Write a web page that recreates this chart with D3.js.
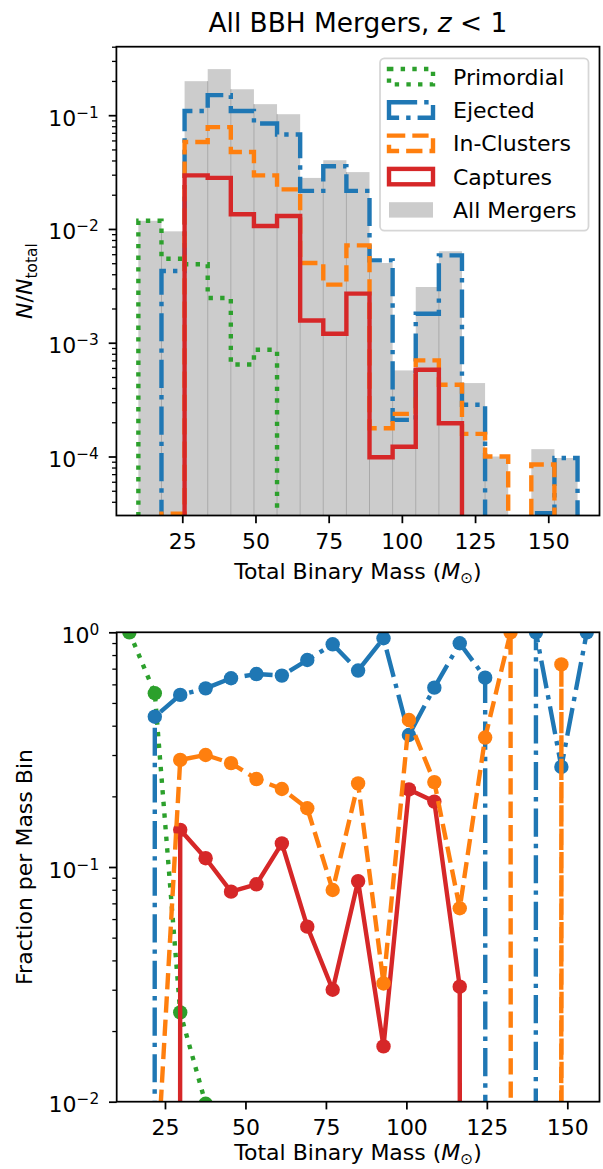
<!DOCTYPE html>
<html>
<head>
<meta charset="utf-8">
<script src="https://cdn.jsdelivr.net/npm/d3@7"></script>
<style>
  html, body { margin: 0; padding: 0; background: #fff; }
  svg { display: block; }
</style>
</head>
<body>
<svg id="fig" width="603" height="1169"></svg>
<script>
// ---- histogram binning ----
const massRange = [10, 160];
const binCount = 19;

// ---- N / N_total per mass bin (top panel) ----
const allMergers = [0.0118, 0.00953, 0.199, 0.254, 0.169, 0.125, 0.102, 0.0281, 0.0402, 0.0316,
                    0.00502, 5.71e-4, 3.09e-3, 6.37e-3, 4.42e-4, 1.0e-4, 0, 1.16e-4, 9.7e-5];
const primordial = [0.0118, 5.48e-3, 4.89e-3, 2.47e-3, 6.44e-4, 8.67e-4, 0, 0, 0, 0,
                    0, 0, 0, 0, 0, 0, 0, 0, 0];
const ejected    = [0, 4.27e-3, 0.109, 0.150, 0.109, 0.0845, 0.0676, 0.0216, 0.0356, 0.0216,
                    5.30e-3, 2.10e-4, 1.80e-3, 5.86e-3, 2.85e-4, 0, 0, 3.18e-5, 9.7e-5];
const inClusters = [0, 3.14e-5, 0.0582, 0.0785, 0.0475, 0.0296, 0.0223, 5.02e-3, 3.24e-3, 7.18e-3,
                    1.77e-4, 2.37e-4, 7.0e-4, 4.27e-4, 1.58e-4, 1.0e-4, 0, 8.5e-5, 0];
const captures   = [0, 0, 0.0296, 0.0281, 0.01346, 0.01062, 0.0130, 1.57e-3, 1.20e-3, 2.70e-3,
                    9.86e-5, 1.22e-4, 5.78e-4, 1.96e-4, 0, 0, 0, 0, 0];

// ---- fraction of each channel per mass bin (bottom panel) ----
const primordialFrac = [1.0, 0.550, 0.0240, 0.0098, 0.0038, 0.0069, 0, 0, 0, 0,
                        0, 0, 0, 0, 0, 0, 0, 0, 0];
const ejectedFrac    = [0, 0.437, 0.541, 0.577, 0.637, 0.664, 0.654, 0.762, 0.889, 0.687,
                        0.943, 0.365, 0.581, 0.898, 0.641, 0, 1.0, 0.267, 1.0];
const inClustersFrac = [0, 0.0035, 0.286, 0.300, 0.277, 0.237, 0.215, 0.178, 0.0798, 0.227,
                        0.0319, 0.423, 0.230, 0.0667, 0.356, 1.0, 0, 0.73, 0];
const capturesFrac   = [0, 0, 0.144, 0.109, 0.0785, 0.0844, 0.126, 0.0557, 0.0300, 0.0871,
                        0.0172, 0.214, 0.190, 0.0309, 0, 0, 0, 0, 0];

// ---- ticks ----
const xTicks = [25, 50, 75, 100, 125, 150];
const topYTicks = [1e-4, 1e-3, 1e-2, 1e-1];
const bottomYTicks = [1e-2, 1e-1, 1];

// ---- styling ----
const FONT = "DejaVu Sans";
const FS = 22;          // tick / label / legend size
const LW = 4.4;         // line width
const SPINE = 1.76;
const channels = [
  { name: "Primordial",  color: "#2ca02c", dash: [1, 1.65],           hist: primordial, frac: primordialFrac },
  { name: "Ejected",     color: "#1f77b4", dash: [6.4, 1.6, 1, 1.6],  hist: ejected,    frac: ejectedFrac },
  { name: "In-Clusters", color: "#ff7f0e", dash: [3.7, 1.6],          hist: inClusters, frac: inClustersFrac },
  { name: "Captures",    color: "#d62728", dash: null,                hist: captures,   frac: capturesFrac }
];
const dashStr = d => d ? d.map(v => v * LW).join(",") : null;
const GRAY = "#cccccc";

const edges = d3.range(binCount + 1).map(i => massRange[0] + i * (massRange[1] - massRange[0]) / binCount);
const centers = d3.range(binCount).map(i => (edges[i] + edges[i + 1]) / 2);
// empty bins sit far below a log axis, as with clipped non-positive values
const floorVal = v => (v > 0 ? v : 1e-300);

const svg = d3.select("#fig").attr("font-family", FONT);

function minorTicks(lo, hi) {
  const out = [];
  for (let e = Math.floor(Math.log10(lo)); e <= Math.ceil(Math.log10(hi)); e++) {
    for (let m = 2; m <= 9; m++) {
      const v = m * Math.pow(10, e);
      if (v >= lo && v <= hi) out.push(v);
    }
  }
  return out;
}

function powLabel(sel, d) {
  const e = Math.round(Math.log10(d));
  sel.text(null);
  sel.append("tspan").text("10");
  sel.append("tspan").attr("font-size", FS * 0.7).attr("dy", -8)
     .text(e < 0 ? "\u2212" + (-e) : String(e));
}

function drawAxes(g, box, x, y, yMajor) {
  // x axis
  g.append("g").attr("transform", `translate(0,${box.bottom})`)
    .call(d3.axisBottom(x).tickValues(xTicks).tickSize(7.7).tickPadding(7.7).tickFormat(d3.format("d")))
    .call(a => a.select(".domain").remove())
    .call(a => a.attr("font-size", FS).attr("font-family", FONT))
    .call(a => a.selectAll("line").attr("stroke-width", SPINE))
    .call(a => a.selectAll("text").attr("fill", "#000").attr("y", 33.5).attr("dy", null));
  // y axis, minor ticks
  const [lo, hi] = y.domain();
  g.append("g").attr("transform", `translate(${box.left},0)`)
    .call(d3.axisLeft(y).tickValues(minorTicks(lo, hi)).tickSize(4.4).tickFormat(""))
    .call(a => a.select(".domain").remove())
    .call(a => a.selectAll("line").attr("stroke-width", 1.3));
  // y axis, major ticks
  g.append("g").attr("transform", `translate(${box.left},0)`)
    .call(d3.axisLeft(y).tickValues(yMajor).tickSize(7.7).tickPadding(7.7))
    .call(a => a.select(".domain").remove())
    .call(a => a.attr("font-size", FS).attr("font-family", FONT))
    .call(a => a.selectAll("line").attr("stroke-width", SPINE))
    .call(a => a.selectAll("text").attr("fill", "#000").attr("x", -17.5).attr("dy", 10)
                 .each(function (d) { powLabel(d3.select(this), d); }));
  // frame
  g.append("rect").attr("x", box.left).attr("y", box.top)
    .attr("width", box.right - box.left).attr("height", box.bottom - box.top)
    .attr("fill", "none").attr("stroke", "#000").attr("stroke-width", SPINE);
}

function xLabel(g, box, baseline) {
  const t = g.append("text").attr("x", (box.left + box.right) / 2).attr("y", baseline)
    .attr("text-anchor", "middle").attr("font-size", FS);
  t.append("tspan").text("Total Binary Mass (");
  t.append("tspan").attr("font-style", "italic").text("M");
  t.append("tspan").attr("font-size", FS * 0.7).attr("dy", 4).text("\u2299");
  t.append("tspan").attr("dy", -4).text(")");
}

/* ================= top panel: histogram ================= */
const tb = { left: 116.4, right: 599.5, top: 46.7, bottom: 515.5 };
const xTop = d3.scaleLinear().domain([2.5, 167.5]).range([tb.left, tb.right]);
const yTop = d3.scaleLog().domain([3.03e-5, 0.4]).range([tb.bottom, tb.top]);

const defs = svg.append("defs");
defs.append("clipPath").attr("id", "clipTop").append("rect")
  .attr("x", tb.left).attr("y", tb.top).attr("width", tb.right - tb.left).attr("height", tb.bottom - tb.top);

const gTop = svg.append("g");
const plotTop = gTop.append("g").attr("clip-path", "url(#clipTop)");

// all mergers, filled bars
plotTop.selectAll("rect.bar").data(allMergers).join("rect").attr("class", "bar")
  .attr("x", (d, i) => xTop(edges[i]))
  .attr("width", (d, i) => xTop(edges[i + 1]) - xTop(edges[i]))
  .attr("y", d => (d > 0 ? yTop(d) : tb.bottom))
  .attr("height", d => (d > 0 ? tb.bottom - yTop(d) : 0))
  .attr("fill", GRAY);
// thin seams between neighbouring bars
plotTop.selectAll("line.seam").data(d3.range(1, binCount).filter(i => allMergers[i - 1] > 0 && allMergers[i] > 0))
  .join("line").attr("class", "seam")
  .attr("x1", i => xTop(edges[i])).attr("x2", i => xTop(edges[i]))
  .attr("y1", tb.bottom).attr("y2", i => yTop(Math.min(allMergers[i - 1], allMergers[i])))
  .attr("stroke", "#a9a9a9").attr("stroke-width", 1);

// channel step outlines
function stepPoints(vals) {
  const pts = [[edges[0], 0]];
  vals.forEach((v, i) => { pts.push([edges[i], v]); pts.push([edges[i + 1], v]); });
  pts.push([edges[binCount], 0]);
  return pts;
}
const stepLine = d3.line().x(p => xTop(p[0])).y(p => yTop(floorVal(p[1])));
channels.forEach(c => {
  plotTop.append("path").attr("d", stepLine(stepPoints(c.hist)))
    .attr("fill", "none").attr("stroke", c.color).attr("stroke-width", LW)
    .attr("stroke-dasharray", dashStr(c.dash))
    .attr("stroke-linejoin", "miter").attr("stroke-linecap", "butt");
});

drawAxes(gTop, tb, xTop, yTop, topYTicks);
xLabel(gTop, tb, 579);

// title
const title = gTop.append("text").attr("x", (tb.left + tb.right) / 2).attr("y", 32)
  .attr("text-anchor", "middle").attr("font-size", 26.4);
title.append("tspan").text("All BBH Mergers, ");
title.append("tspan").attr("font-style", "italic").text("z");
title.append("tspan").text(" < 1");

// y label
const ylTop = gTop.append("text")
  .attr("transform", `translate(32,${(tb.top + tb.bottom) / 2}) rotate(-90)`)
  .attr("text-anchor", "middle").attr("font-size", FS);
ylTop.append("tspan").attr("font-style", "italic").text("N");
ylTop.append("tspan").text("/");
ylTop.append("tspan").attr("font-style", "italic").text("N");
ylTop.append("tspan").attr("font-size", FS * 0.7).attr("dy", 5).text("total");

// legend
const leg = { x: 380, y: 58.3, w: 208.5, h: 172.4, row0: 76.7, dy: 33.3 };
const gLeg = gTop.append("g");
gLeg.append("rect").attr("x", leg.x).attr("y", leg.y).attr("width", leg.w).attr("height", leg.h)
  .attr("rx", 4.4).attr("fill", "#fff").attr("fill-opacity", 0.8)
  .attr("stroke", GRAY).attr("stroke-opacity", 0.8).attr("stroke-width", 1.76);
const legendItems = channels.map(c => ({ name: c.name, color: c.color, dash: c.dash, filled: false }))
  .concat([{ name: "All Mergers", color: GRAY, dash: null, filled: true }]);
legendItems.forEach((it, i) => {
  const cy = leg.row0 + i * leg.dy;
  const r = gLeg.append("rect").attr("x", 389).attr("y", cy - 7.7).attr("width", 44).attr("height", 15.4);
  if (it.filled) r.attr("fill", it.color);
  else r.attr("fill", "none").attr("stroke", it.color).attr("stroke-width", LW)
        .attr("stroke-dasharray", dashStr(it.dash)).attr("stroke-linejoin", "miter");
  gLeg.append("text").attr("x", 453).attr("y", cy + 8).attr("font-size", FS).text(it.name);
});

/* ================= bottom panel: fractions ================= */
const bb = { left: 116.7, right: 599.5, top: 632.3, bottom: 1101.7 };
const xBot = d3.scaleLinear().domain(massRange).range([bb.left, bb.right]);
const yBot = d3.scaleLog().domain([0.01, 1]).range([bb.bottom, bb.top]);

defs.append("clipPath").attr("id", "clipBot").append("rect")
  .attr("x", bb.left).attr("y", bb.top).attr("width", bb.right - bb.left).attr("height", bb.bottom - bb.top);

const gBot = svg.append("g");
const plotBot = gBot.append("g").attr("clip-path", "url(#clipBot)");
const fracLine = d3.line().x((d, i) => xBot(centers[i])).y(d => yBot(floorVal(d)));
// drawing order: primordial, ejected, captures, in-clusters
[channels[0], channels[1], channels[3], channels[2]].forEach(c => {
  plotBot.append("path").attr("d", fracLine(c.frac))
    .attr("fill", "none").attr("stroke", c.color).attr("stroke-width", LW)
    .attr("stroke-dasharray", dashStr(c.dash))
    .attr("stroke-linejoin", "round").attr("stroke-linecap", c.dash ? "butt" : "round");
  plotBot.selectAll(null).data(c.frac.map((v, i) => [centers[i], v]).filter(p => p[1] > 0))
    .join("circle")
    .attr("cx", p => xBot(p[0])).attr("cy", p => yBot(p[1])).attr("r", 7.2)
    .attr("fill", c.color);
});

drawAxes(gBot, bb, xBot, yBot, bottomYTicks);
xLabel(gBot, bb, 1160);

gBot.append("text")
  .attr("transform", `translate(32,${(bb.top + bb.bottom) / 2}) rotate(-90)`)
  .attr("text-anchor", "middle").attr("font-size", FS).text("Fraction per Mass Bin");
</script>
</body>
</html>
